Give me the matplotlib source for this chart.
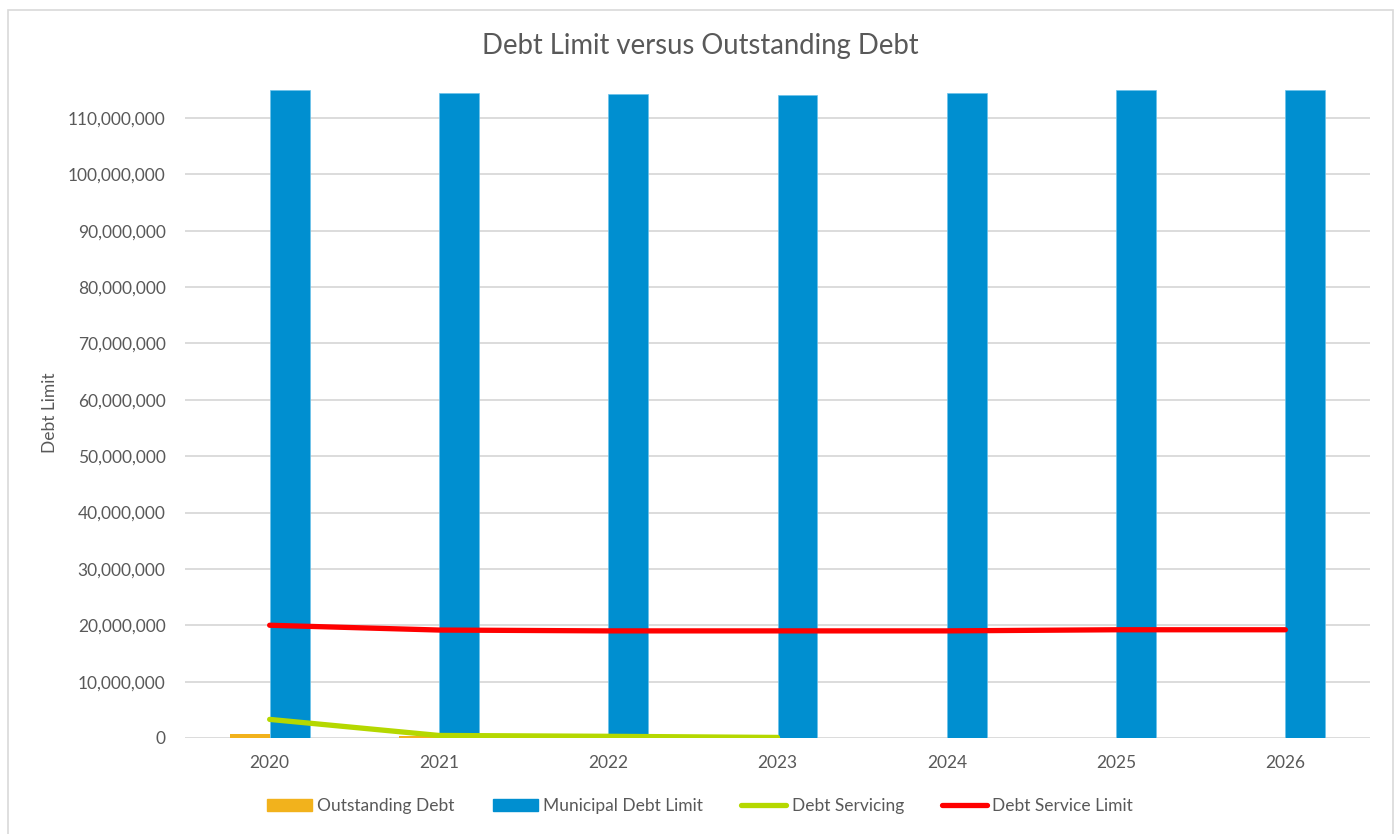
import numpy as np
import matplotlib.pyplot as plt
from matplotlib.patches import Rectangle, Patch
from matplotlib.lines import Line2D
from matplotlib.ticker import FuncFormatter, MultipleLocator

plt.rcParams['font.family'] = ['Lato', 'DejaVu Sans']

# data
years = ['2020', '2021', '2022', '2023', '2024', '2025', '2026']
outstanding_debt = [760000, 400000, 0, 0, 0, 0, 0]
municipal_debt_limit = [115000000, 114500000, 114200000, 114000000, 114400000, 114900000, 114900000]
debt_servicing = [3300000, 450000, 300000, 100000]
debt_service_limit = [20000000, 19150000, 19000000, 19000000, 19000000, 19200000, 19200000]

text_col = '#595959'
grid_col = '#d9d9d9'

fig = plt.figure(figsize=(14, 8.34), dpi=100)
# chart border
fig.patches.append(Rectangle((8 / 1400, -0.01), 1385 / 1400, 1 - 10 / 834 + 0.01,
                             transform=fig.transFigure, fill=False,
                             edgecolor=grid_col, linewidth=1.2))

ax = fig.add_axes([185 / 1400, 1 - 738 / 834, 1185 / 1400, 650 / 834])

x = np.arange(len(years))
w = 0.236
ax.bar(x - w / 2, outstanding_debt, w, color='#f2b21c', zorder=2, label='Outstanding Debt')
ax.bar(x + w / 2, municipal_debt_limit, w, color='#008fd0', edgecolor='#6cc3ea',
       linewidth=0.5, zorder=2, label='Municipal Debt Limit')
ax.plot(x[:len(debt_servicing)], debt_servicing, color='#b5d800', lw=3.8,
        solid_capstyle='round', solid_joinstyle='round', zorder=3, label='Debt Servicing')
ax.plot(x, debt_service_limit, color='#ff0000', lw=3.8,
        solid_capstyle='round', solid_joinstyle='round', zorder=3, label='Debt Service Limit')

ax.set_xlim(-0.5, len(years) - 0.5)
ax.set_ylim(0, 115300000)
ax.set_xticks(x)
ax.set_xticklabels(years)
ax.yaxis.set_major_locator(MultipleLocator(10000000))
ax.yaxis.set_major_formatter(FuncFormatter(lambda v, p: f'{int(v):,}'))
ax.tick_params(length=0, labelsize=12.5, colors=text_col, pad=14)
ax.tick_params(axis='x', pad=12)
ax.grid(axis='y', color=grid_col, linewidth=1.3, zorder=0)
ax.set_axisbelow(True)
for s in ax.spines.values():
    s.set_visible(False)

ax.set_ylabel('Debt Limit', fontsize=12.5, color=text_col)
ax.yaxis.set_label_coords(-(185 - 58) / 1185, 0.5)
fig.text(0.5, 1 - 46 / 834, 'Debt Limit versus Outstanding Debt', ha='center', va='center',
         fontsize=19.8, color=text_col)

handles = [Patch(color='#f2b21c'), Patch(color='#008fd0'),
           Line2D([], [], color='#b5d800', lw=3.8, solid_capstyle='round'),
           Line2D([], [], color='#ff0000', lw=3.8, solid_capstyle='round')]
labels = ['Outstanding Debt', 'Municipal Debt Limit', 'Debt Servicing', 'Debt Service Limit']
fig.legend(handles, labels, loc='center', bbox_to_anchor=(0.5, 1 - 806 / 834), ncol=4,
           frameon=False, fontsize=12.5, labelcolor=text_col, handlelength=2.6,
           handleheight=0.7, handletextpad=0.3, columnspacing=2.2)

fig.savefig('out.png', dpi=100, facecolor='white')
